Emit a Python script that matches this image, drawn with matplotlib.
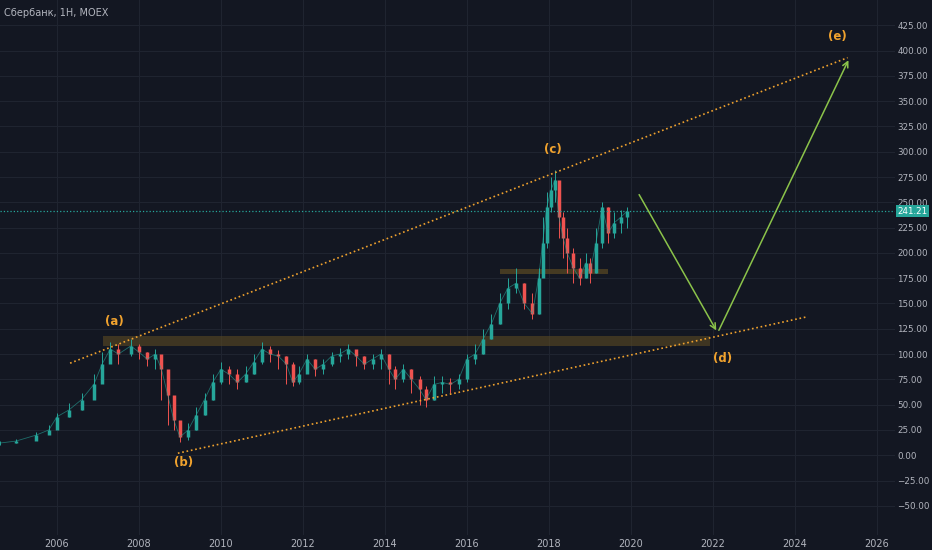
import matplotlib
matplotlib.use("Agg")
import matplotlib.pyplot as plt
import numpy as np

years = [2004.6,2005.0,2005.5,2005.8,2006.0,2006.3,2006.6,2006.9,2007.1,2007.3,2007.5,2007.8,2008.0,2008.2,2008.4,2008.55,2008.7,2008.85,2009.0,2009.2,2009.4,2009.6,2009.8,2010.0,2010.2,2010.4,2010.6,2010.8,2011.0,2011.2,2011.4,2011.6,2011.75,2011.9,2012.1,2012.3,2012.5,2012.7,2012.9,2013.1,2013.3,2013.5,2013.7,2013.9,2014.1,2014.25,2014.45,2014.65,2014.85,2015.0,2015.2,2015.4,2015.6,2015.8,2016.0,2016.2,2016.4,2016.6,2016.8,2017.0,2017.2,2017.4,2017.6,2017.75,2017.85,2017.95,2018.05,2018.15,2018.25,2018.35,2018.45,2018.6,2018.75,2018.9,2019.0,2019.15,2019.3,2019.45,2019.6,2019.75,2019.9]
closes = [12,14,20,25,38,45,55,70,90,105,100,108,102,95,100,85,60,35,18,25,40,55,72,85,80,72,80,92,105,100,98,90,72,80,95,85,90,98,100,105,98,90,95,100,85,75,85,75,65,55,70,72,70,75,95,100,115,130,150,165,170,150,140,175,210,245,262,272,235,215,200,185,175,190,180,210,245,220,230,235,241]
highs = [14,16,23,30,42,52,62,80,102,112,110,115,110,102,105,95,80,50,30,32,48,62,80,92,88,85,88,100,112,108,104,98,92,88,100,95,95,102,106,110,104,98,100,105,100,88,90,85,78,68,78,78,76,80,100,110,125,140,160,175,185,170,160,185,235,260,275,282,268,240,225,205,195,200,195,225,250,245,240,242,245]
lows = [10,12,17,22,30,38,45,58,75,95,90,98,95,88,85,55,30,25,13,15,25,40,55,70,70,65,72,80,90,92,85,70,68,70,82,78,80,88,92,95,88,85,85,85,70,65,72,62,50,48,55,62,62,65,72,90,100,115,130,145,160,145,135,140,180,205,240,250,215,195,180,170,168,175,170,180,205,210,215,220,225]
yticks = list(range(-50, 450, 25))
xticks = list(range(2006, 2028, 2))

upper = ([2006.32, 2025.29], [91, 393])
lower = ([2008.95, 2024.32], [2, 137])
arrow_pts = ([2020.17, 2022.12, 2025.34], [260, 121, 393])
labels = [("(a)", 2007.4, 132), ("(b)", 2009.1, -7), ("(c)", 2018.1, 302), ("(d)", 2022.24, 96), ("(e)", 2025.05, 414)]
last_price = 241.21

bg = "#131722"; orange = "#f0a22e"; green = "#8bc34a"
fig = plt.figure(figsize=(9.32, 5.5), dpi=100, facecolor=bg)
ax = fig.add_axes([0, 0.027, 0.96, 0.973], facecolor=bg)
ax.set_xlim(2004.61, 2026.44); ax.set_ylim(-79, 450)
ax.grid(True, color="#1f2430", lw=0.8); ax.set_axisbelow(True)
ax.set_xticks(xticks); ax.set_yticks(yticks)
ax.yaxis.tick_right()
ax.set_xticklabels([str(x) for x in xticks])
ax.set_yticklabels([f"{v:.2f}" if v >= 0 else f"\u2212{-v:.2f}" for v in yticks])
ax.tick_params(axis="y", colors="#b2b5be", labelsize=6.3, length=0, pad=2)
ax.tick_params(axis="x", colors="#b2b5be", labelsize=7, length=0, pad=3)
for s in ax.spines.values(): s.set_visible(False)

opens = [closes[0]] + closes[:-1]
for i, (x, o, c, h, l) in enumerate(zip(years, opens, closes, highs, lows)):
    col = "#26a69a" if c >= o else "#ef5350"
    ax.vlines(x, l, h, color=col, lw=0.7)
    ax.vlines(x, min(o, c), max(o, c), color=col, lw=2.5)
ax.plot(years, closes, color="#26a69a", lw=0.6, alpha=0.6)

ax.plot(*upper, ls=":", color=orange, lw=1.2)
ax.plot(*lower, ls=":", color=orange, lw=1.2)
ax.add_patch(plt.Rectangle((2007.12, 108), 2021.93-2007.12, 10, color="#5b4a22", alpha=0.6, lw=0))
ax.add_patch(plt.Rectangle((2016.8, 179), 2019.44-2016.8, 5, color="#5b4a22", alpha=0.7, lw=0))
ax.annotate("", xy=(arrow_pts[0][1], arrow_pts[1][1]), xytext=(arrow_pts[0][0], arrow_pts[1][0]),
            arrowprops=dict(arrowstyle="->", color=green, lw=1.1))
ax.annotate("", xy=(arrow_pts[0][2], arrow_pts[1][2]), xytext=(arrow_pts[0][1], arrow_pts[1][1]),
            arrowprops=dict(arrowstyle="->", color=green, lw=1.1))
for t, x, y in labels:
    ax.text(x, y, t, color=orange, fontsize=8.5, ha="center", va="center", fontweight="bold")
ax.axhline(last_price, color="#26a69a", ls=":", lw=0.9)
ax.text(1.003, last_price, f"{last_price:.2f}", transform=ax.get_yaxis_transform(), fontsize=6.3,
        color="white", va="center", ha="left", bbox=dict(boxstyle="square,pad=0.15", fc="#26a69a", ec="none"))
fig.text(0.004, 0.985, "Сбербанк, 1H, MOEX", color="#b2b5be", fontsize=7, va="top")
fig.savefig("out.png", dpi=100, facecolor=bg)
